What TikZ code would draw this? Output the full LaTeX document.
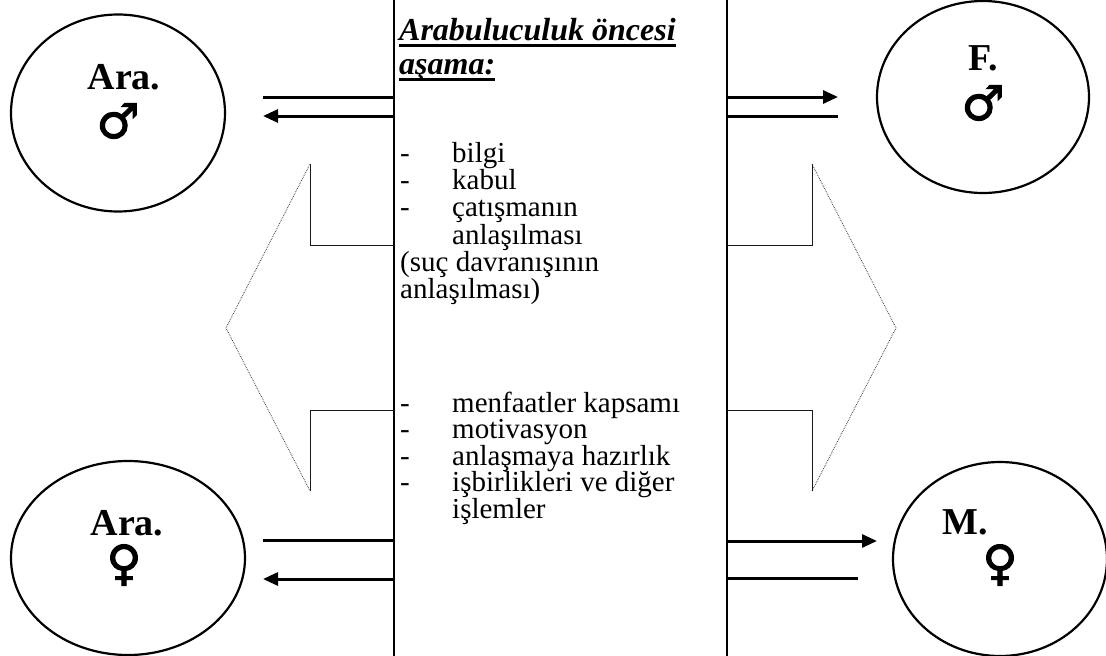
\documentclass[tikz,border=0pt]{standalone}
\usepackage{fontspec}
\setmainfont{Liberation Serif}
\newfontfamily\symfont[FakeBold=2]{DejaVu Sans Bold}
\usetikzlibrary{arrows.meta,shapes.geometric}
\newcommand\ulbar[1]{\setbox0=\hbox{#1}\rlap{\vrule height -3.5pt depth 7pt width \wd0}\box0}
\newcommand\dashitem[1]{\makebox[52pt][l]{-}#1}

\begin{document}
\begin{tikzpicture}[x=1pt, y=-1pt,
    party/.style={draw, ellipse, line width=2.2pt, inner sep=0pt},
    partyname/.style={inner sep=0pt, font=\fontsize{38}{38}\selectfont\bfseries},
    gendersym/.style={inner sep=0pt, font=\symfont\fontsize{48}{48}\selectfont},
    body/.style={anchor=base west, inner sep=0pt, text height=0.62em, text depth=0.12em,
      font=\fontsize{29}{27}\selectfont},
    heading/.style={anchor=base west, inner sep=0pt, font=\fontsize{32}{34}\selectfont\bfseries\itshape},
    wall/.style={line width=1.3pt},
    bracket/.style={line width=1pt, black!90},
    ray/.style={line width=0.8pt, black!75, densely dotted},
    flow/.style={line width=3pt},
    headed/.style={-{Triangle[length=15pt,width=13pt]}}
  ]
  \useasboundingbox (0,0) rectangle (1106,656);

  % the four parties
  \node[party, minimum width=214pt, minimum height=197pt] (araM) at (118,113) {};
  \node[party, minimum width=212pt, minimum height=192pt] (failM) at (983,97) {};
  \node[party, minimum width=234pt, minimum height=194pt] (araF) at (128,558) {};
  \node[party, minimum width=214pt, minimum height=194pt] (victF) at (1000,559) {};
  \node[partyname] (araMname) at (124,77) {Ara.};
  \node[gendersym] (araMsym) at (118,121) {♂};
  \node[partyname] (failMname) at (983,58) {F.};
  \node[gendersym] (failMsym) at (983,103) {♂};
  \node[partyname] (araFname) at (127,523) {Ara.};
  \node[gendersym] (araFsym) at (124,565) {♀};
  \node[partyname] (victFname) at (965,522) {M.};
  \node[gendersym] (victFsym) at (1000,565) {♀};

  % the two walls of the middle column
  \coordinate (wallLtop) at (394,0);   \coordinate (wallLbot) at (394,656);
  \coordinate (wallRtop) at (727,0);   \coordinate (wallRbot) at (727,656);
  \draw[wall] (wallLtop) -- (wallLbot);
  \draw[wall] (wallRtop) -- (wallRbot);

  % brackets pointing outwards
  \coordinate (brLa) at (394,245); \coordinate (brLb) at (310,245); \coordinate (brLc) at (310,164);
  \coordinate (brLtip) at (226,328);
  \coordinate (brLd) at (310,491); \coordinate (brLe) at (310,410); \coordinate (brLf) at (394,410);
  \draw[bracket] (brLa) -- (brLb) -- (brLc);
  \draw[ray] (brLc) -- (brLtip) -- (brLd);
  \draw[bracket] (brLd) -- (brLe) -- (brLf);
  \coordinate (brRa) at (727,245); \coordinate (brRb) at (812,245); \coordinate (brRc) at (812,164);
  \coordinate (brRtip) at (896,328);
  \coordinate (brRd) at (812,491); \coordinate (brRe) at (812,410); \coordinate (brRf) at (727,410);
  \draw[bracket] (brRa) -- (brRb) -- (brRc);
  \draw[ray] (brRc) -- (brRtip) -- (brRd);
  \draw[bracket] (brRd) -- (brRe) -- (brRf);

  % exchange arrows
  \coordinate (tlA) at (394,97);  \coordinate (tlAend) at (263,97);
  \coordinate (tlB) at (394,116); \coordinate (tlBend) at (263,116);
  \coordinate (trA) at (727,97);  \coordinate (trAend) at (838,97);
  \coordinate (trB) at (727,116); \coordinate (trBend) at (838,116);
  \coordinate (blA) at (394,540); \coordinate (blAend) at (263,540);
  \coordinate (blB) at (394,579); \coordinate (blBend) at (263,579);
  \coordinate (brA) at (727,541); \coordinate (brAend) at (877,541);
  \coordinate (brB) at (727,578); \coordinate (brBend) at (858,578);
  \draw[flow] (tlA) -- (tlAend);
  \draw[flow,headed] (tlB) -- (tlBend);
  \draw[flow,headed] (trA) -- (trAend);
  \draw[flow] (trB) -- (trBend);
  \draw[flow] (blA) -- (blAend);
  \draw[flow,headed] (blB) -- (blBend);
  \draw[flow,headed] (brA) -- (brAend);
  \draw[flow] (brB) -- (brBend);

  % middle column text
  \node[heading] (head1) at (399,40) {\ulbar{Arabuluculuk öncesi}};
  \node[heading] (head2) at (399,74) {\ulbar{aşama:}};
  \node[body] (itBilgi) at (400,162) {\dashitem{bilgi}};
  \node[body] (itKabul) at (400,189) {\dashitem{kabul}};
  \node[body] (itCatisma) at (400,216.5) {\dashitem{çatışmanın}};
  \node[body] (itCatisma2) at (452,244) {anlaşılması};
  \node[body] (itSuc) at (400,271) {(suç davranışının};
  \node[body] (itSuc2) at (400,298) {anlaşılması)};
  \node[body] (itMenfaat) at (400,412) {\dashitem{menfaatler kapsamı}};
  \node[body] (itMotiv) at (400,438.5) {\dashitem{motivasyon}};
  \node[body] (itHazir) at (400,465) {\dashitem{anlaşmaya hazırlık}};
  \node[body] (itIsbir) at (400,491.5) {\dashitem{işbirlikleri ve diğer}};
  \node[body] (itIsbir2) at (452,518) {işlemler};
\end{tikzpicture}
\end{document}
